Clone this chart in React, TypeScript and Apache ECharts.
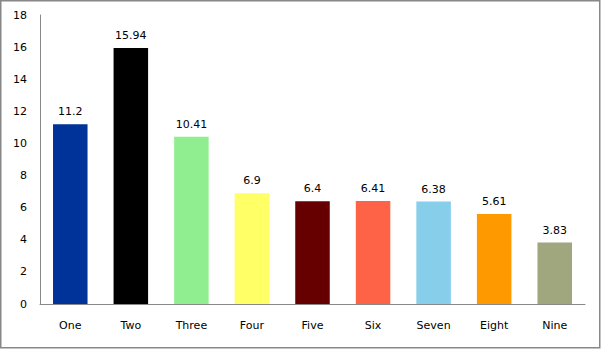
import React, { useEffect, useRef } from "react";
import * as echarts from "echarts";

const categories = ["One", "Two", "Three", "Four", "Five", "Six", "Seven", "Eight", "Nine"];
const values = [11.2, 15.94, 10.41, 6.9, 6.4, 6.41, 6.38, 5.61, 3.83];
const barColors = ["#003399", "#000000", "#90EE90", "#FFFF66", "#660000", "#FF6347", "#87CEEB", "#FF9900", "#A0A67E"];
const yTicks = { min: 0, max: 18, interval: 2 };

export default function App() {
  const ref = useRef<HTMLDivElement>(null);
  useEffect(() => {
    const chart = echarts.init(ref.current!, null, { renderer: "svg" });
    const font = "'DejaVu Sans', sans-serif";
    chart.setOption({
      animation: false,
      backgroundColor: "#ffffff",
      grid: { left: 40, right: 16, top: 15, bottom: 45, containLabel: false },
      graphic: [
        {
          type: "rect",
          shape: { x: 0.75, y: 0.75, width: 599, height: 347 },
          style: { fill: "none", stroke: "#888888", lineWidth: 1.5 },
          silent: true,
        },
      ],
      xAxis: {
        type: "category",
        data: categories,
        axisLine: { lineStyle: { color: "#888888", width: 1 } },
        axisTick: { show: false },
        axisLabel: { color: "#000000", fontFamily: font, fontSize: 11, margin: 16 },
      },
      yAxis: {
        type: "value",
        min: yTicks.min,
        max: yTicks.max,
        interval: yTicks.interval,
        splitLine: { show: false },
        axisLine: { show: true, lineStyle: { color: "#888888", width: 1 } },
        axisTick: { show: false },
        axisLabel: { color: "#000000", fontFamily: font, fontSize: 11, margin: 13 },
      },
      series: [
        {
          type: "bar",
          data: values.map((v, i) => ({ value: v, itemStyle: { color: barColors[i] } })),
          barWidth: "57%",
          label: {
            show: true,
            position: "top",
            distance: 7,
            color: "#000000",
            fontFamily: font,
            fontSize: 11,
          },
        },
      ],
    });
    return () => chart.dispose();
  }, []);
  return <div ref={ref} style={{ position: "fixed", left: 0, top: 0, width: 601, height: 349 }} />;
}
